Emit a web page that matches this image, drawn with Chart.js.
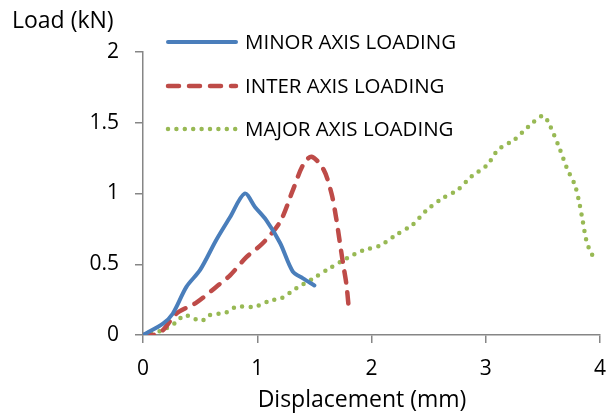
<!DOCTYPE html>
<html>
<head>
<meta charset="utf-8">
<script src="https://cdn.jsdelivr.net/npm/chart.js@4"></script>
<style>
  html, body { margin: 0; padding: 0; background: #fff; }
  #wrap { width: 607px; height: 414px; position: relative; }
</style>
</head>
<body>
<div id="wrap"><canvas id="loadChart"></canvas></div>
<script>
// series (displacement mm, load kN)
const minorX = [0, 0.175, 0.26, 0.38, 0.5, 0.64, 0.76, 0.89, 0.98, 1.08, 1.2, 1.31, 1.4, 1.5];
const minorY = [0, 0.08, 0.15, 0.34, 0.46, 0.67, 0.83, 1.0, 0.905, 0.81, 0.65, 0.45, 0.40, 0.35];

const interX = [0, 0.09, 0.175, 0.29, 0.47, 0.64, 0.76, 0.905, 1.05, 1.2, 1.31, 1.4, 1.475, 1.58, 1.65, 1.69, 1.72, 1.75, 1.78, 1.8];
const interY = [0, 0, 0.035, 0.15, 0.23, 0.34, 0.42, 0.55, 0.65, 0.80, 1.02, 1.2, 1.26, 1.17, 1.0, 0.83, 0.67, 0.51, 0.36, 0.2];

const majorX = [0, 0.16, 0.29, 0.365, 0.51, 0.58, 0.73, 0.82, 0.98, 1.12, 1.21, 1.34, 1.49, 1.63, 1.78, 1.93, 2.07, 2.22, 2.36, 2.48, 2.61, 2.76, 2.875, 3.01, 3.11, 3.25, 3.37, 3.5, 3.55, 3.65, 3.71, 3.78, 3.82, 3.85, 3.88, 3.91, 3.95];
const majorY = [0, 0.03, 0.09, 0.14, 0.10, 0.14, 0.16, 0.20, 0.20, 0.245, 0.26, 0.33, 0.40, 0.47, 0.54, 0.60, 0.63, 0.71, 0.78, 0.88, 0.96, 1.03, 1.12, 1.20, 1.31, 1.38, 1.47, 1.55, 1.50, 1.31, 1.18, 1.06, 0.93, 0.80, 0.67, 0.60, 0.54];

const seriesNames = ['MINOR AXIS LOADING', 'INTER AXIS LOADING', 'MAJOR AXIS LOADING'];
const xTicks = [0, 1, 2, 3, 4];
const yTicks = [0, 0.5, 1, 1.5, 2];

function pts(xs, ys) {
  return xs.map((x, i) => ({ x: x, y: ys[i] }));
}

const FONT = '"Open Sans", sans-serif';
const axisGrey = '#868686';

// custom legend + axis titles, placed like the original
const extras = {
  id: 'extras',
  afterDraw(chart) {
    const c = chart.ctx;
    c.save();
    c.fillStyle = '#000';
    c.textBaseline = 'middle';
    c.font = '23px ' + FONT;
    c.textAlign = 'left';
    c.fillText('Load (kN)', 12, 21);
    c.textAlign = 'center';
    c.fillText('Displacement (mm)', 362, 400);

    const rows = [42, 86, 129];
    chart.data.datasets.forEach((ds, i) => {
      const y = rows[i];
      c.beginPath();
      c.strokeStyle = ds.borderColor;
      c.lineWidth = ds.borderWidth;
      c.lineCap = ds.borderCapStyle || 'butt';
      c.setLineDash(ds.borderDash || []);
      c.moveTo(168, y);
      c.lineTo(236, y);
      c.stroke();
      c.setLineDash([]);
      c.textAlign = 'left';
      c.fillStyle = '#000';
      c.font = '20.5px ' + FONT;
      c.fillText(ds.label, 245, y + 1);
    });
    c.restore();
  }
};

const ctx = document.getElementById('loadChart').getContext('2d');
new Chart(ctx, {
  type: 'scatter',
  data: {
    datasets: [{
      label: seriesNames[0],
      data: pts(minorX, minorY),
      borderColor: '#4A7EBB',
      borderWidth: 4,
      borderCapStyle: 'round'
    }, {
      label: seriesNames[1],
      data: pts(interX, interY),
      borderColor: '#BE4B48',
      borderWidth: 4.5,
      borderDash: [11, 10],
      borderCapStyle: 'round'
    }, {
      label: seriesNames[2],
      data: pts(majorX, majorY),
      borderColor: '#98B954',
      borderWidth: 4.5,
      borderDash: [0, 8.4],
      borderCapStyle: 'round'
    }]
  },
  options: {
    responsive: true,
    maintainAspectRatio: false,
    animation: false,
    showLine: true,
    elements: {
      point: { radius: 0, hoverRadius: 0 },
      line: { tension: 0.3, fill: false }
    },
    layout: { padding: { top: 52, right: 0, left: 0, bottom: 0 } },
    plugins: {
      legend: { display: false },
      tooltip: { enabled: false }
    },
    scales: {
      x: {
        type: 'linear',
        min: 0,
        max: 4,
        afterBuildTicks: (s) => { s.ticks = xTicks.map(v => ({ value: v })); },
        afterFit: (s) => { s.height = 79; s.paddingRight = 7; },
        grid: { drawOnChartArea: false, tickLength: 8, color: axisGrey, lineWidth: 1.5 },
        border: { color: axisGrey, width: 1.5 },
        ticks: { color: '#000', font: { family: FONT, size: 21 }, padding: 13 }
      },
      y: {
        type: 'linear',
        min: 0,
        max: 2,
        afterBuildTicks: (s) => { s.ticks = yTicks.map(v => ({ value: v })); },
        afterFit: (s) => { s.width = 143; },
        grid: { drawOnChartArea: false, tickLength: 8, color: axisGrey, lineWidth: 1.5 },
        border: { color: axisGrey, width: 1.5 },
        ticks: {
          color: '#000',
          font: { family: FONT, size: 21 },
          padding: 16,
          callback: (v) => String(v)
        }
      }
    }
  },
  plugins: [extras]
});
</script>
</body>
</html>
